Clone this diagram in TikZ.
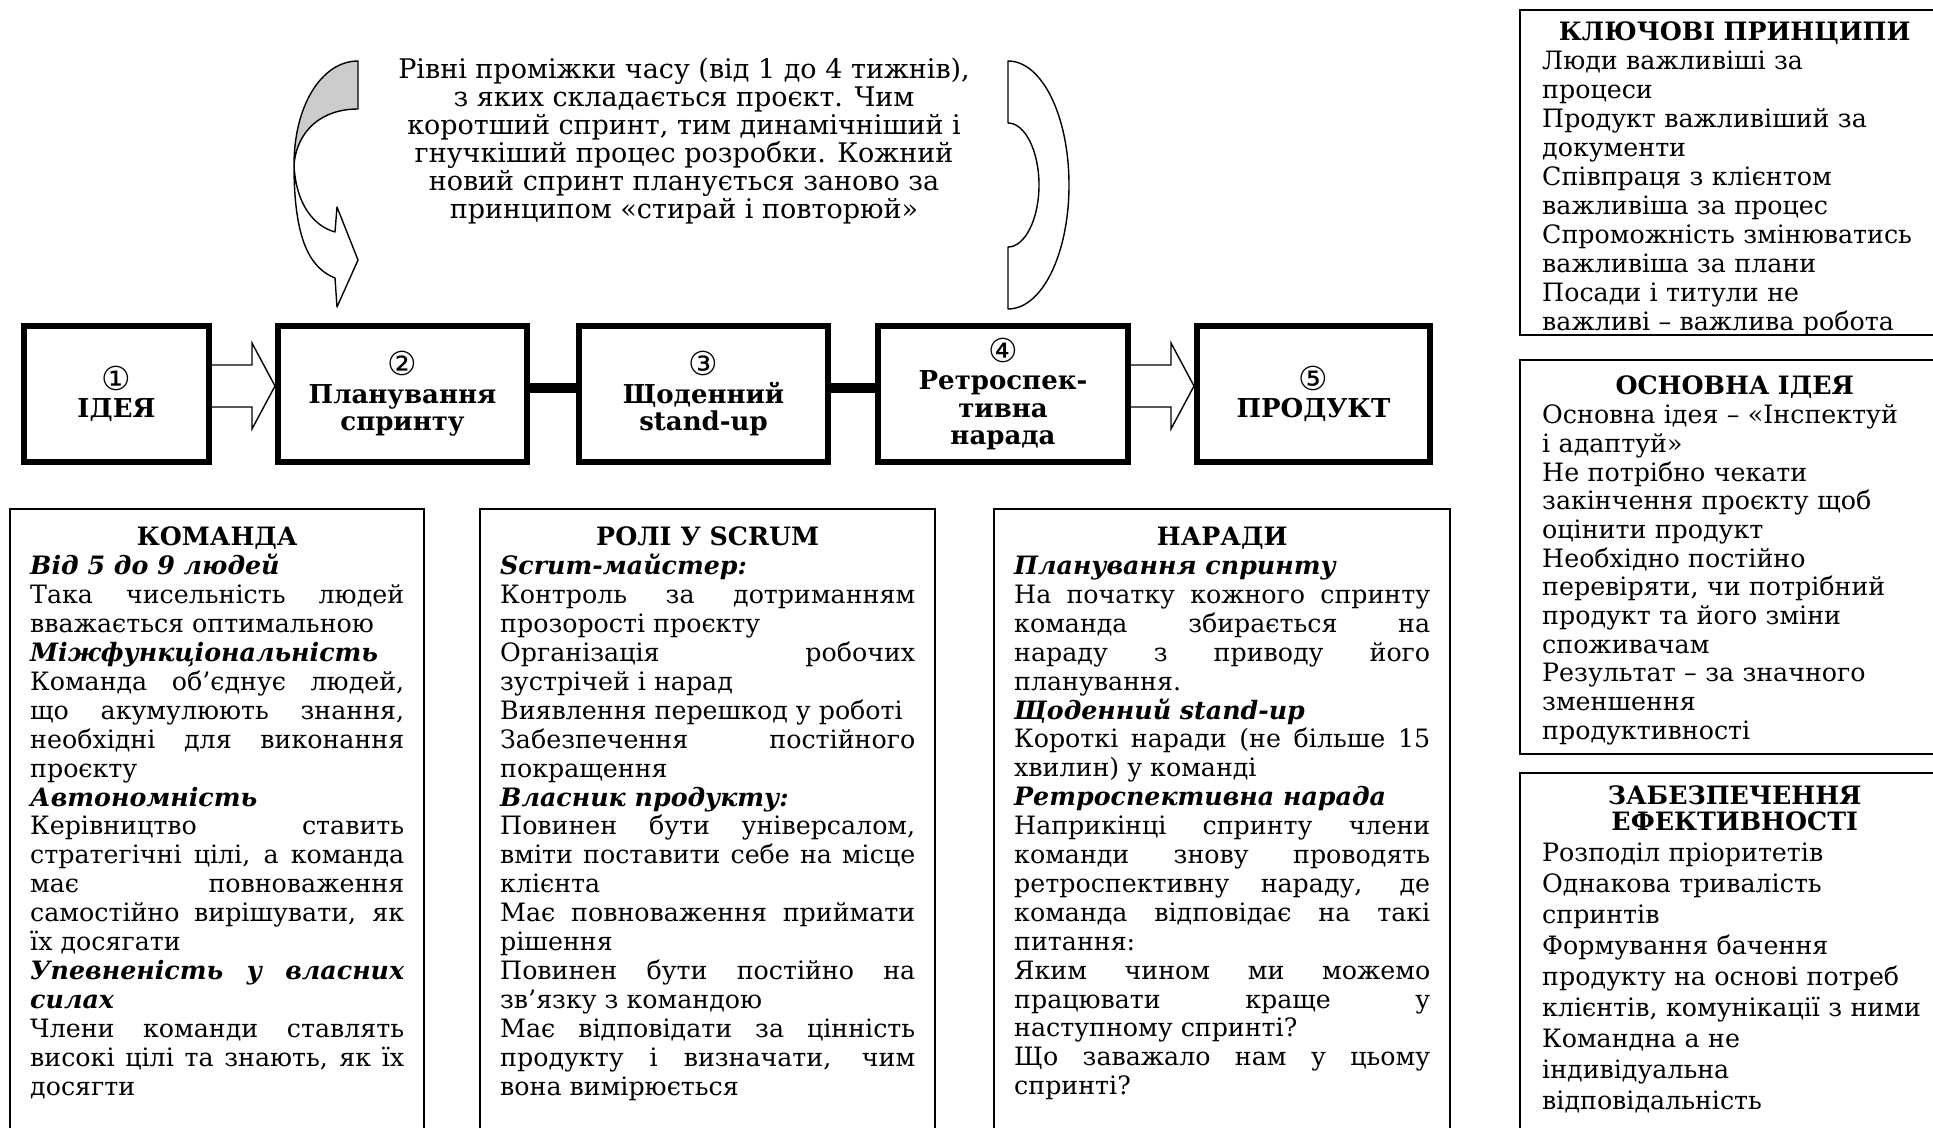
\documentclass[tikz,border=0pt]{standalone}
\usepackage{fontspec}
\setmainfont{DejaVu Serif}
\newfontfamily\circfont{DejaVu Sans}
\usepackage{tikz}
\usetikzlibrary{calc}

\newcommand{\circnum}[1]{{\circfont\mdseries\fontsize{33}{33}\selectfont #1}}
\newcommand{\boxtitle}[1]{\makebox[\hsize]{\bfseries #1}}
\newcommand{\subhead}[1]{\textbf{\textit{#1}}}

\begin{document}
\begin{tikzpicture}[x=1pt,y=-1pt]
    \tikzstyle{stage}=[rectangle, draw=black, line width=6pt, minimum height=136pt, inner sep=0pt, align=center, font=\fontsize{26}{27.5}\selectfont\bfseries]
    \tikzstyle{link}=[line width=10pt]
    \tikzstyle{blockarrow}=[draw=black, line width=1.4pt, fill=white]
    \tikzstyle{lead}=[align=center, inner sep=0pt, font=\fontsize{27}{28.1}\selectfont]
    \tikzstyle{info}=[anchor=north west, align=justify, inner xsep=20pt, inner ysep=18pt, font=\fontsize{25.3}{28.9}\selectfont]
    \tikzstyle{side}=[anchor=north west, align=left, text width=385pt, inner xsep=22pt, font=\fontsize{25.3}{29}\selectfont]
    \tikzstyle{thinframe}=[line width=1.6pt]
    \tikzstyle{sideframe}=[line width=2.2pt]
    \tikzstyle{band}=[line width=1.4pt, line join=round]

    \useasboundingbox (0,0) rectangle (1933,1128);
    \coordinate (floor) at (0,1128);
    \coordinate (edge) at (1933,0);

    % sprint text and the two curved shapes
    \node[lead] (sprint) at (684,141) {Рівні проміжки часу (від 1 до 4 тижнів),\\ з яких складається проєкт. Чим\\ коротший спринт, тим динамічніший і\\ гнучкіший процес розробки. Кожний\\ новий спринт планується заново за\\ принципом «стирай і повторюй»};
    \filldraw[band, fill=black!20] (358,61) .. controls (322,61) and (294,105) .. (294,165) .. controls (297,130) and (322,109) .. (358,109) -- cycle;
    \draw[band] (294,165) .. controls (294,240) and (310,268) .. (335,278) -- (337,307) -- (358,260) -- (337,207) -- (335,232) .. controls (314,226) and (296,205) .. (294,165);
    \draw[band] (1008,61) .. controls (1042,61) and (1069,116) .. (1069,185) .. controls (1069,254) and (1042,309) .. (1008,309) -- (1008,247) .. controls (1025,247) and (1039,219) .. (1039,185) .. controls (1039,151) and (1025,123) .. (1008,123) -- cycle;

    % stages
    \node[stage, minimum width=185pt] (idea) at (116.5,394) {\circnum{①}\\ІДЕЯ};
    \node[stage, minimum width=249pt] (plan) at (402.5,394) {\circnum{②}\\Планування\\спринту};
    \node[stage, minimum width=249pt] (daily) at (703.5,394) {\circnum{③}\\Щоденний\\stand-up};
    \node[stage, minimum width=250pt] (retro) at (1003,394) {\circnum{④}\\Ретроспек-\\тивна\\нарада};
    \node[stage, minimum width=233pt] (product) at (1313.5,394) {\circnum{⑤}\\ПРОДУКТ};

    \coordinate (tipA) at ($(plan.west)+(0,-8)$);
    \coordinate (tipB) at ($(product.west)+(0,-8)$);
    \draw[blockarrow] ($(idea.east|-tipA)+(0,-21)$) -- ($(tipA)+(-23,-21)$) -- ($(tipA)+(-23,-43)$) -- (tipA) -- ($(tipA)+(-23,43)$) -- ($(tipA)+(-23,21)$) -- ($(idea.east|-tipA)+(0,21)$);
    \draw[blockarrow] ($(retro.east|-tipB)+(0,-21)$) -- ($(tipB)+(-23,-21)$) -- ($(tipB)+(-23,-43)$) -- (tipB) -- ($(tipB)+(-23,43)$) -- ($(tipB)+(-23,21)$) -- ($(retro.east|-tipB)+(0,21)$);
    \draw[link] ($(plan.east)+(0,-6)$) -- ($(daily.west)+(0,-6)$);
    \draw[link] ($(daily.east)+(0,-6)$) -- ($(retro.west)+(0,-6)$);

    % lower boxes
    \coordinate (teamtl) at (10,509);
    \coordinate (teamtr) at (424,509);
    \draw[thinframe] (teamtl|-floor) -- (teamtl) -- (teamtr) -- (teamtr|-floor);
    \node[info, text width=374pt] (team) at (teamtl) {\boxtitle{КОМАНДА}\\
        \subhead{Від 5 до 9 людей}\\
        Така чисельність людей\linebreak вважається оптимальною\\
        \subhead{Міжфункціональність}\\
        Команда об’єднує людей,\linebreak що акумулюють знання,\linebreak необхідні для виконання\linebreak проєкту\\
        \subhead{Автономність}\\
        Керівництво ставить\linebreak стратегічні цілі, а команда\linebreak має повноваження\linebreak самостійно вирішувати, як\linebreak їх досягати\\
        \subhead{Упевненість у власних\linebreak силах}\\
        Члени команди ставлять\linebreak високі цілі та знають, як їх\linebreak досягти};

    \coordinate (rolestl) at (480,509);
    \coordinate (rolestr) at (935,509);
    \draw[thinframe] (rolestl|-floor) -- (rolestl) -- (rolestr) -- (rolestr|-floor);
    \node[info, text width=415pt] (roles) at (rolestl) {\boxtitle{РОЛІ У SCRUM}\\
        \subhead{Scrum-майстер:}\\
        Контроль за дотриманням\linebreak прозорості проєкту\\
        Організація робочих\linebreak зустрічей і нарад\\
        Виявлення перешкод у роботі\\
        Забезпечення постійного\linebreak покращення\\
        \subhead{Власник продукту:}\\
        Повинен бути універсалом,\linebreak вміти поставити себе на місце\linebreak клієнта\\
        Має повноваження приймати\linebreak рішення\\
        Повинен бути постійно на\linebreak зв’язку з командою\\
        Має відповідати за цінність\linebreak продукту і визначати, чим\linebreak вона вимірюється};

    \coordinate (meettl) at (994,509);
    \coordinate (meettr) at (1450,509);
    \draw[thinframe] (meettl|-floor) -- (meettl) -- (meettr) -- (meettr|-floor);
    \node[info, text width=416pt] (meetings) at (meettl) {\boxtitle{НАРАДИ}\\
        \subhead{Планування спринту}\\
        На початку кожного спринту\linebreak команда збирається на\linebreak нараду з приводу його\linebreak планування.\\
        \subhead{Щоденний stand-up}\\
        Короткі наради (не більше 15\linebreak хвилин) у команді\\
        \subhead{Ретроспективна нарада}\\
        Наприкінці спринту члени\linebreak команди знову проводять\linebreak ретроспективну нараду, де\linebreak команда відповідає на такі\linebreak питання:\\
        Яким чином ми можемо\linebreak працювати краще у\linebreak наступному спринті?\\
        Що заважало нам у цьому\linebreak спринті?};

    % right column
    \coordinate (keytop) at (1520,10);
    \coordinate (keybot) at (1520,335);
    \draw[sideframe] (edge|-keytop) -- (keytop) -- (keybot) -- (edge|-keybot);
    \node[side, inner ysep=12pt] (key) at (keytop) {\boxtitle{КЛЮЧОВІ ПРИНЦИПИ}\\
        Люди важливіші за\\ процеси\\ Продукт важливіший за\\ документи\\ Співпраця з клієнтом\\ важливіша за процес\\ Спроможність змінюватись\\ важливіша за плани\\ Посади і титули не\\ важливі – важлива робота};

    \coordinate (ideatop) at (1520,360);
    \coordinate (ideabot) at (1520,754);
    \draw[sideframe] (edge|-ideatop) -- (ideatop) -- (ideabot) -- (edge|-ideabot);
    \node[side, inner ysep=16pt, font=\fontsize{25.3}{28.7}\selectfont] (mainidea) at (ideatop) {\boxtitle{ОСНОВНА ІДЕЯ}\\
        Основна ідея – «Інспектуй\\ і адаптуй»\\ Не потрібно чекати\\ закінчення проєкту щоб\\ оцінити продукт\\ Необхідно постійно\\ перевіряти, чи потрібний\\ продукт та його зміни\\ споживачам\\ Результат – за значного\\ зменшення\\ продуктивності};

    \coordinate (efftop) at (1520,773);
    \draw[sideframe] (edge|-efftop) -- (efftop) -- (efftop|-floor);
    \node[side, inner ysep=13pt, font=\fontsize{25.3}{31}\selectfont] (efficiency) at (efftop) {\boxtitle{ЗАБЕЗПЕЧЕННЯ}\\[-5pt]
        \boxtitle{ЕФЕКТИВНОСТІ}\\
        Розподіл пріоритетів\\ Однакова тривалість\\ спринтів\\ Формування бачення\\ продукту на основі потреб\\ клієнтів, комунікації з ними\\ Командна а не\\ індивідуальна\\ відповідальність};
\end{tikzpicture}
\end{document}
